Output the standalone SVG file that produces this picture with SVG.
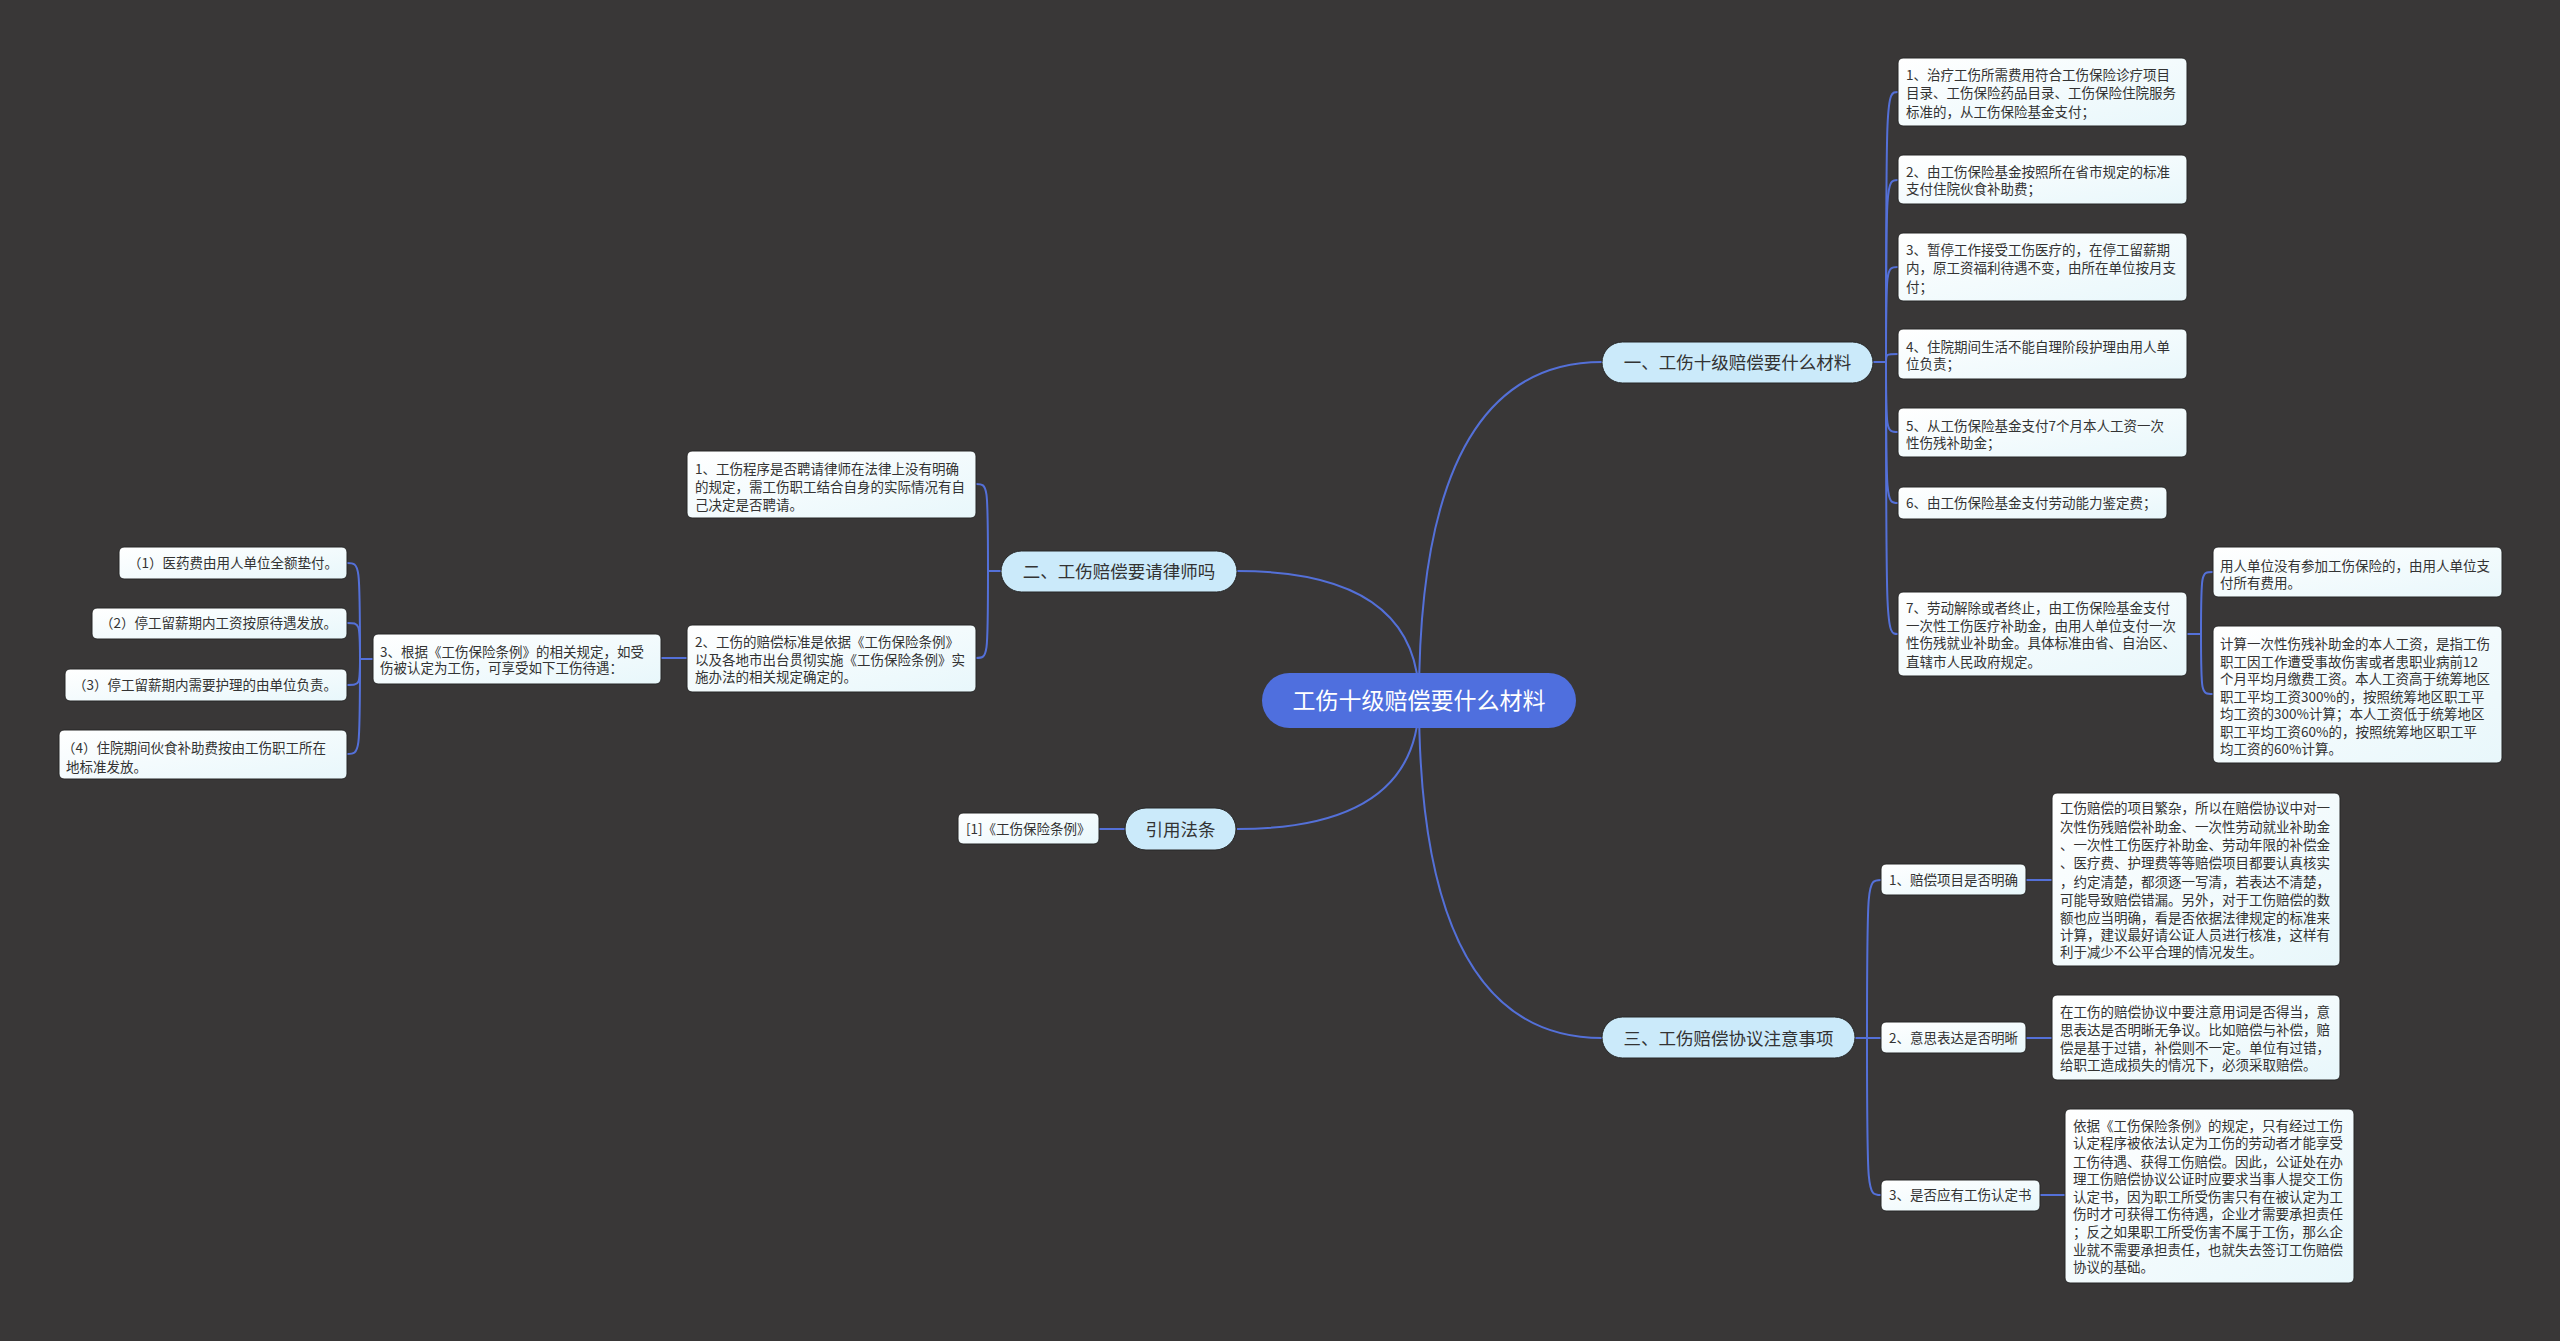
<svg xmlns="http://www.w3.org/2000/svg" width="2560" height="1341" viewBox="0 0 2560 1341">
<defs>
<linearGradient id="leafg" x1="0" y1="0" x2="1" y2="1">
<stop offset="0" stop-color="#ffffff"/>
<stop offset="1" stop-color="#e8f7fb"/>
</linearGradient>
<style>
text{font-family:"Noto Sans CJK SC","Noto Sans",sans-serif;fill:#333333}
.leaf{fill:url(#leafg);stroke:#262626;stroke-width:1}
.branch{fill:#cbeafa;stroke:#262626;stroke-width:1}
.center{fill:#4f6fde}
.t{font-size:13.5px}
.b{font-size:17.5px;text-anchor:middle}
.c{font-size:23px;text-anchor:middle;fill:#ffffff}
.ln{fill:none;stroke:#5470d8;stroke-width:2}
</style>
</defs>
<rect width="2560" height="1341" fill="#393737"/>

<g id="connectors">
<path class="ln" d="M1419 700 Q1419 362 1602 362"/>
<path class="ln" d="M1419 700 Q1419 571 1237 571"/>
<path class="ln" d="M1419 700 Q1419 829 1237 829"/>
<path class="ln" d="M1419 700 Q1419 1038 1602 1038"/>
<path class="ln" d="M1873 362 H1886 C1886 92 1886 92 1898 92"/>
<path class="ln" d="M1873 362 H1886 C1886 180 1886 180 1898 180"/>
<path class="ln" d="M1873 362 H1886 C1886 267 1886 267 1898 267"/>
<path class="ln" d="M1873 362 H1886 C1886 354 1886 354 1898 354"/>
<path class="ln" d="M1873 362 H1886 C1886 432 1886 432 1898 432"/>
<path class="ln" d="M1873 362 H1886 C1886 503 1886 503 1898 503"/>
<path class="ln" d="M1873 362 H1886 C1886 634 1886 634 1898 634"/>
<path class="ln" d="M2187 634 H2201 C2201 572 2201 572 2213 572"/>
<path class="ln" d="M2187 634 H2201 C2201 694 2201 694 2213 694"/>
<path class="ln" d="M1001 571 H988 C988 484 988 484 976 484"/>
<path class="ln" d="M1001 571 H988 C988 658 988 658 976 658"/>
<path class="ln" d="M687 658 H661"/>
<path class="ln" d="M373 659 H360 C360 563 360 563 347 563"/>
<path class="ln" d="M373 659 H360 C360 623 360 623 347 623"/>
<path class="ln" d="M373 659 H360 C360 685 360 685 347 685"/>
<path class="ln" d="M373 659 H360 C360 754 360 754 347 754"/>
<path class="ln" d="M1125 829 H1099"/>
<path class="ln" d="M1855 1038 H1867 C1867 880 1867 880 1881 880"/>
<path class="ln" d="M1855 1038 H1881"/>
<path class="ln" d="M1855 1038 H1867 C1867 1195 1867 1195 1881 1195"/>
<path class="ln" d="M2026 880 H2052"/>
<path class="ln" d="M2026 1038 H2052"/>
<path class="ln" d="M2040 1195 H2065"/>
</g>

<g id="root">
<rect class="center" x="1262" y="673" width="314" height="55" rx="27.5"/>
<text class="c" x="1419" y="708.5">工伤十级赔偿要什么材料</text>
</g>

<g id="branch1">
<rect class="branch" x="1602" y="342" width="271" height="41" rx="20.5"/>
<text class="b" x="1737.5" y="368.5">一、工伤十级赔偿要什么材料</text>
</g>
<g id="branch2">
<rect class="branch" x="1001" y="551" width="236" height="41" rx="20.5"/>
<text class="b" x="1119" y="577.5">二、工伤赔偿要请律师吗</text>
</g>
<g id="branch4">
<rect class="branch" x="1125" y="808" width="111" height="42" rx="21"/>
<text class="b" x="1180.5" y="835.5">引用法条</text>
</g>
<g id="branch3">
<rect class="branch" x="1602" y="1017" width="253" height="41" rx="20.5"/>
<text class="b" x="1728.5" y="1044.5">三、工伤赔偿协议注意事项</text>
</g>

<g id="leaf1-1">
<rect class="leaf" x="1898" y="58" width="289" height="68" rx="5"/>
<text class="t"><tspan x="1906" y="80">1、治疗工伤所需费用符合工伤保险诊疗项目</tspan><tspan x="1906" y="98">目录、工伤保险药品目录、工伤保险住院服务</tspan><tspan x="1906" y="117">标准的，从工伤保险基金支付；</tspan></text>
</g>
<g id="leaf1-2">
<rect class="leaf" x="1898" y="155" width="289" height="49" rx="5"/>
<text class="t"><tspan x="1906" y="177">2、由工伤保险基金按照所在省市规定的标准</tspan><tspan x="1906" y="194">支付住院伙食补助费；</tspan></text>
</g>
<g id="leaf1-3">
<rect class="leaf" x="1898" y="233" width="289" height="68" rx="5"/>
<text class="t"><tspan x="1906" y="255">3、暂停工作接受工伤医疗的，在停工留薪期</tspan><tspan x="1906" y="273">内，原工资福利待遇不变，由所在单位按月支</tspan><tspan x="1906" y="292">付；</tspan></text>
</g>
<g id="leaf1-4">
<rect class="leaf" x="1898" y="329" width="289" height="50" rx="5"/>
<text class="t"><tspan x="1906" y="352">4、住院期间生活不能自理阶段护理由用人单</tspan><tspan x="1906" y="369">位负责；</tspan></text>
</g>
<g id="leaf1-5">
<rect class="leaf" x="1898" y="408" width="289" height="49" rx="5"/>
<text class="t"><tspan x="1906" y="431">5、从工伤保险基金支付7个月本人工资一次</tspan><tspan x="1906" y="448">性伤残补助金；</tspan></text>
</g>
<g id="leaf1-6">
<rect class="leaf" x="1898" y="487" width="269" height="32" rx="5"/>
<text class="t" x="1906" y="508">6、由工伤保险基金支付劳动能力鉴定费；</text>
</g>
<g id="leaf1-7">
<rect class="leaf" x="1898" y="592" width="289" height="84" rx="5"/>
<text class="t"><tspan x="1906" y="613">7、劳动解除或者终止，由工伤保险基金支付</tspan><tspan x="1906" y="631">一次性工伤医疗补助金，由用人单位支付一次</tspan><tspan x="1906" y="648">性伤残就业补助金。具体标准由省、自治区、</tspan><tspan x="1906" y="667">直辖市人民政府规定。</tspan></text>
</g>
<g id="leaf1-7a">
<rect class="leaf" x="2213" y="547" width="289" height="50" rx="5"/>
<text class="t"><tspan x="2220" y="571">用人单位没有参加工伤保险的，由用人单位支</tspan><tspan x="2220" y="588">付所有费用。</tspan></text>
</g>
<g id="leaf1-7b">
<rect class="leaf" x="2213" y="626" width="289" height="137" rx="5"/>
<text class="t"><tspan x="2220" y="649">计算一次性伤残补助金的本人工资，是指工伤</tspan><tspan x="2220" y="667">职工因工作遭受事故伤害或者患职业病前12</tspan><tspan x="2220" y="684">个月平均月缴费工资。本人工资高于统筹地区</tspan><tspan x="2220" y="702">职工平均工资300%的，按照统筹地区职工平</tspan><tspan x="2220" y="719">均工资的300%计算；本人工资低于统筹地区</tspan><tspan x="2220" y="737">职工平均工资60%的，按照统筹地区职工平</tspan><tspan x="2220" y="754">均工资的60%计算。</tspan></text>
</g>

<g id="leaf2-1">
<rect class="leaf" x="687" y="451" width="289" height="67" rx="5"/>
<text class="t"><tspan x="695" y="474">1、工伤程序是否聘请律师在法律上没有明确</tspan><tspan x="695" y="492">的规定，需工伤职工结合自身的实际情况有自</tspan><tspan x="695" y="510">己决定是否聘请。</tspan></text>
</g>
<g id="leaf2-2">
<rect class="leaf" x="687" y="625" width="289" height="67" rx="5"/>
<text class="t"><tspan x="695" y="647">2、工伤的赔偿标准是依据《工伤保险条例》</tspan><tspan x="695" y="665">以及各地市出台贯彻实施《工伤保险条例》实</tspan><tspan x="695" y="682">施办法的相关规定确定的。</tspan></text>
</g>
<g id="leaf2-3">
<rect class="leaf" x="373" y="634" width="288" height="50" rx="5"/>
<text class="t"><tspan x="380" y="657">3、根据《工伤保险条例》的相关规定，如受</tspan><tspan x="380" y="673">伤被认定为工伤，可享受如下工伤待遇：</tspan></text>
</g>
<g id="leaf2-3-1">
<rect class="leaf" x="119" y="547" width="228" height="32" rx="5"/>
<text class="t" x="128" y="568">（1）医药费由用人单位全额垫付。</text>
</g>
<g id="leaf2-3-2">
<rect class="leaf" x="92" y="608" width="255" height="31" rx="5"/>
<text class="t" x="100" y="628">（2）停工留薪期内工资按原待遇发放。</text>
</g>
<g id="leaf2-3-3">
<rect class="leaf" x="65" y="669" width="282" height="32" rx="5"/>
<text class="t" x="73" y="690">（3）停工留薪期内需要护理的由单位负责。</text>
</g>
<g id="leaf2-3-4">
<rect class="leaf" x="59" y="730" width="288" height="49" rx="5"/>
<text class="t"><tspan x="62" y="753">（4）住院期间伙食补助费按由工伤职工所在</tspan><tspan x="66" y="772">地标准发放。</tspan></text>
</g>

<g id="leaf4-1">
<rect class="leaf" x="958" y="813" width="141" height="31" rx="5"/>
<text class="t" x="966" y="834">[1]《工伤保险条例》</text>
</g>

<g id="sub3-1">
<rect class="leaf" x="1881" y="864" width="145" height="31" rx="5"/>
<text class="t" x="1889" y="885">1、赔偿项目是否明确</text>
</g>
<g id="sub3-2">
<rect class="leaf" x="1881" y="1022" width="145" height="31" rx="5"/>
<text class="t" x="1889" y="1043">2、意思表达是否明晰</text>
</g>
<g id="sub3-3">
<rect class="leaf" x="1881" y="1180" width="159" height="31" rx="5"/>
<text class="t" x="1889" y="1200">3、是否应有工伤认定书</text>
</g>
<g id="leaf3-1">
<rect class="leaf" x="2052" y="793" width="288" height="173" rx="5"/>
<text class="t"><tspan x="2060" y="813">工伤赔偿的项目繁杂，所以在赔偿协议中对一</tspan><tspan x="2060" y="832">次性伤残赔偿补助金、一次性劳动就业补助金</tspan><tspan x="2060" y="850">、一次性工伤医疗补助金、劳动年限的补偿金</tspan><tspan x="2060" y="868">、医疗费、护理费等等赔偿项目都要认真核实</tspan><tspan x="2060" y="887">，约定清楚，都须逐一写清，若表达不清楚，</tspan><tspan x="2060" y="905">可能导致赔偿错漏。另外，对于工伤赔偿的数</tspan><tspan x="2060" y="923">额也应当明确，看是否依据法律规定的标准来</tspan><tspan x="2060" y="940">计算，建议最好请公证人员进行核准，这样有</tspan><tspan x="2060" y="957">利于减少不公平合理的情况发生。</tspan></text>
</g>
<g id="leaf3-2">
<rect class="leaf" x="2052" y="995" width="288" height="85" rx="5"/>
<text class="t"><tspan x="2060" y="1017">在工伤的赔偿协议中要注意用词是否得当，意</tspan><tspan x="2060" y="1035">思表达是否明晰无争议。比如赔偿与补偿，赔</tspan><tspan x="2060" y="1053">偿是基于过错，补偿则不一定。单位有过错，</tspan><tspan x="2060" y="1070">给职工造成损失的情况下，必须采取赔偿。</tspan></text>
</g>
<g id="leaf3-3">
<rect class="leaf" x="2065" y="1109" width="289" height="174" rx="5"/>
<text class="t"><tspan x="2073" y="1131">依据《工伤保险条例》的规定，只有经过工伤</tspan><tspan x="2073" y="1148">认定程序被依法认定为工伤的劳动者才能享受</tspan><tspan x="2073" y="1167">工伤待遇、获得工伤赔偿。因此，公证处在办</tspan><tspan x="2073" y="1184">理工伤赔偿协议公证时应要求当事人提交工伤</tspan><tspan x="2073" y="1202">认定书，因为职工所受伤害只有在被认定为工</tspan><tspan x="2073" y="1219">伤时才可获得工伤待遇，企业才需要承担责任</tspan><tspan x="2073" y="1237">；反之如果职工所受伤害不属于工伤，那么企</tspan><tspan x="2073" y="1255">业就不需要承担责任，也就失去签订工伤赔偿</tspan><tspan x="2073" y="1272">协议的基础。</tspan></text>
</g>
</svg>
